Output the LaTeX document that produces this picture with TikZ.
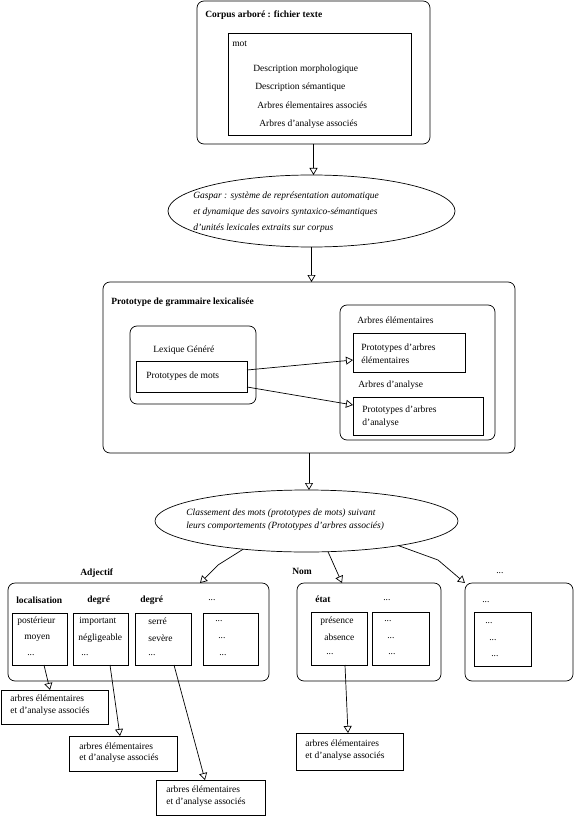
\documentclass[tikz,border=0pt]{standalone}
\usepackage{fontspec}
\setmainfont{Liberation Serif}
\usepackage{tikz}
\usetikzlibrary{shapes.geometric, arrows.meta, positioning}

\begin{document}
\begin{tikzpicture}[
    x=1pt, y=-1pt,
    line width=0.7pt,
    >={Triangle[open, length=7pt, width=8pt]},
    rbox/.style={rectangle, draw, rounded corners=7pt, inner sep=0pt, outer sep=0pt},
    sbox/.style={rectangle, draw, inner sep=0pt, outer sep=0pt},
    oval/.style={ellipse, draw, inner sep=0pt, outer sep=0pt},
    txt/.style={anchor=west, inner sep=0pt, align=left, font=\fontsize{9.5}{12}\selectfont},
    itxt/.style={txt, font=\fontsize{9.5}{13}\selectfont\itshape},
    btxt/.style={txt, font=\fontsize{9.5}{12}\selectfont\bfseries}
]
\useasboundingbox (0,0) rectangle (576,818);

% Corpus
\node[rbox, minimum width=233pt, minimum height=143pt] (corpus) at (313.5,72.5) {};
\node[btxt] (corpustitle) at (205,15) {Corpus arboré : fichier texte};
\node[sbox, minimum width=183pt, minimum height=102pt] (motbox) at (319.5,84) {};
\node[txt] (mot) at (232,44) {mot};
\node[txt] (morpho) at (253,69) {Description morphologique};
\node[txt] (seman) at (255,87) {Description sémantique};
\node[txt] (elemas) at (257,105) {Arbres élementaires associés};
\node[txt] (analas) at (259,124) {Arbres d'analyse associés};

% Gaspar
\node[oval, minimum width=287pt, minimum height=72pt] (gaspar) at (311.5,211) {};
\node[itxt, font=\fontsize{9.5}{16}\selectfont\itshape] (gaspartxt) at (193,212) {Gaspar : système de représentation automatique\\et dynamique des savoirs syntaxico-sémantiques\\d'unités lexicales extraits sur corpus};

% Grammaire
\node[rbox, minimum width=412pt, minimum height=171pt] (gram) at (309,367.5) {};
\node[btxt] (gramtitle) at (111,302) {Prototype de grammaire lexicalisée};

\node[rbox, minimum width=126pt, minimum height=78pt] (lexique) at (193,365) {};
\node[txt] (lexiquetxt) at (153,350) {Lexique Généré};
\node[sbox, minimum width=111pt, minimum height=31pt] (protomots) at (191.5,376.5) {};
\node[txt] (protomotstxt) at (146,376) {Prototypes de mots};

\node[rbox, minimum width=155pt, minimum height=135pt] (arbres) at (417.5,372.5) {};
\node[txt] (elemtitle) at (357,320) {Arbres élémentaires};
\node[sbox, minimum width=112pt, minimum height=39pt] (protoelem) at (409,352.5) {};
\node[txt, font=\fontsize{9.5}{13}\selectfont] (protoelemtxt) at (361,353.5) {Prototypes d'arbres\\élémentaires};
\node[txt] (analtitle) at (358,385) {Arbres d'analyse};
\node[sbox, minimum width=130pt, minimum height=38pt] (protoanal) at (418,416) {};
\node[txt, font=\fontsize{9.5}{13}\selectfont] (protoanaltxt) at (362,416.5) {Prototypes d'arbres\\d'analyse};

% Classement
\node[oval, minimum width=303pt, minimum height=62pt] (classement) at (306.5,521) {};
\node[itxt] (classtxt) at (186,520) {Classement des mots (prototypes de mots) suivant\\leurs comportements (Prototypes d'arbres associés)};

% Adjectif
\node[btxt] (adjlabel) at (80,573) {Adjectif};
\node[rbox, minimum width=261pt, minimum height=98pt] (adjectif) at (138.5,632) {};
\node[btxt] (loc) at (16,600) {localisation};
\node[btxt] (deg1) at (87,600) {degré};
\node[btxt] (deg2) at (140,600) {degré};
\node[txt] (adjdots) at (208,600) {...};
\node[sbox, minimum width=55pt, minimum height=52pt] (col1) at (39.5,639) {};
\node[sbox, minimum width=55pt, minimum height=52pt] (col2) at (100.5,639) {};
\node[sbox, minimum width=56pt, minimum height=52pt] (col3) at (163,639) {};
\node[sbox, minimum width=55pt, minimum height=52pt] (col4) at (230.5,639) {};
\node[txt] (c1a) at (17,621) {postérieur};
\node[txt] (c1b) at (24,638) {moyen};
\node[txt] (c1c) at (27,655) {...};
\node[txt] (c2a) at (79,621) {important};
\node[txt] (c2b) at (78,638) {négligeable};
\node[txt] (c2c) at (81,655) {...};
\node[txt] (c3a) at (148,621) {serré};
\node[txt] (c3b) at (148,638) {sevère};
\node[txt] (c3c) at (148,655) {...};
\node[txt] (c4a) at (215,621) {...};
\node[txt] (c4b) at (218,638) {...};
\node[txt] (c4c) at (219,655) {...};

% Nom
\node[btxt] (nomlabel) at (292,571) {Nom};
\node[rbox, minimum width=144pt, minimum height=98pt] (nom) at (369,632) {};
\node[btxt] (etat) at (315,599) {état};
\node[txt] (nomdots) at (383,600) {...};
\node[sbox, minimum width=56pt, minimum height=53pt] (n1) at (339,638.5) {};
\node[sbox, minimum width=57pt, minimum height=53pt] (n2) at (400.5,638.5) {};
\node[txt] (n1a) at (320,621) {présence};
\node[txt] (n1b) at (324,637) {absence};
\node[txt] (n1c) at (326,654) {...};
\node[txt] (n2a) at (384,621) {...};
\node[txt] (n2b) at (387,638) {...};
\node[txt] (n2c) at (388,654) {...};

% Autres
\node[txt] (autrelabel) at (496,573) {...};
\node[rbox, minimum width=108pt, minimum height=98pt] (autre) at (519,632) {};
\node[txt] (autredots) at (482,602) {...};
\node[sbox, minimum width=57pt, minimum height=54pt] (a1) at (502.5,639) {};
\node[txt] (a1a) at (485,623) {...};
\node[txt] (a1b) at (489,640) {...};
\node[txt] (a1c) at (491,656) {...};

% Arbres associes
\node[sbox, minimum width=107pt, minimum height=34pt] (assoc1) at (54.5,707) {};
\node[txt, font=\fontsize{9.5}{11.5}\selectfont] (assoc1txt) at (10,705) {arbres élémentaires\\et d'analyse associés};
\node[sbox, minimum width=108pt, minimum height=35pt] (assoc2) at (123,753.5) {};
\node[txt, font=\fontsize{9.5}{11.5}\selectfont] (assoc2txt) at (79,752.5) {arbres élémentaires\\et d'analyse associés};
\node[sbox, minimum width=109pt, minimum height=35pt] (assoc3) at (210.5,797.5) {};
\node[txt, font=\fontsize{9.5}{11.5}\selectfont] (assoc3txt) at (166,796) {arbres élémentaires\\et d'analyse associés};
\node[sbox, minimum width=107pt, minimum height=37pt] (assoc4) at (349.5,751.5) {};
\node[txt, font=\fontsize{9.5}{11.5}\selectfont] (assoc4txt) at (305,750) {arbres élémentaires\\et d'analyse associés};

% Connections
\coordinate (bendadj) at (218,565);
\coordinate (bendautre) at (438,560);
\draw[->] (corpus.south) -- (corpus.south |- gaspar.north);
\draw[->] (gaspar.south) -- (gaspar.south |- gram.north);
\draw[->] ([yshift=6.5pt]protomots.east) -- ([yshift=-7.5pt]protoelem.west);
\draw[->] ([yshift=-10.5pt]protomots.east) -- ([yshift=11pt]protoanal.west);
\draw[->] (gram.south) -- (gram.south |- classement.north);
\draw[->] (classement.204) -- (bendadj) -- ([xshift=61.5pt]adjectif.north);
\draw[->] (classement.305) -- ([xshift=-27pt]nom.north);
\draw[->] (classement.345) -- (bendautre) -- (autre.north west);
\draw[->] ([xshift=4.5pt]col1.south) -- ([xshift=-4.5pt]assoc1.north);
\draw[->] ([xshift=9.5pt]col2.south) -- ([xshift=-3pt]assoc2.north);
\draw[->] ([xshift=11pt]col3.south) -- ([xshift=-5.5pt]assoc3.north);
\draw[->] ([xshift=6pt]n1.south) -- ([xshift=-1.5pt]assoc4.north);

\end{tikzpicture}
\end{document}
